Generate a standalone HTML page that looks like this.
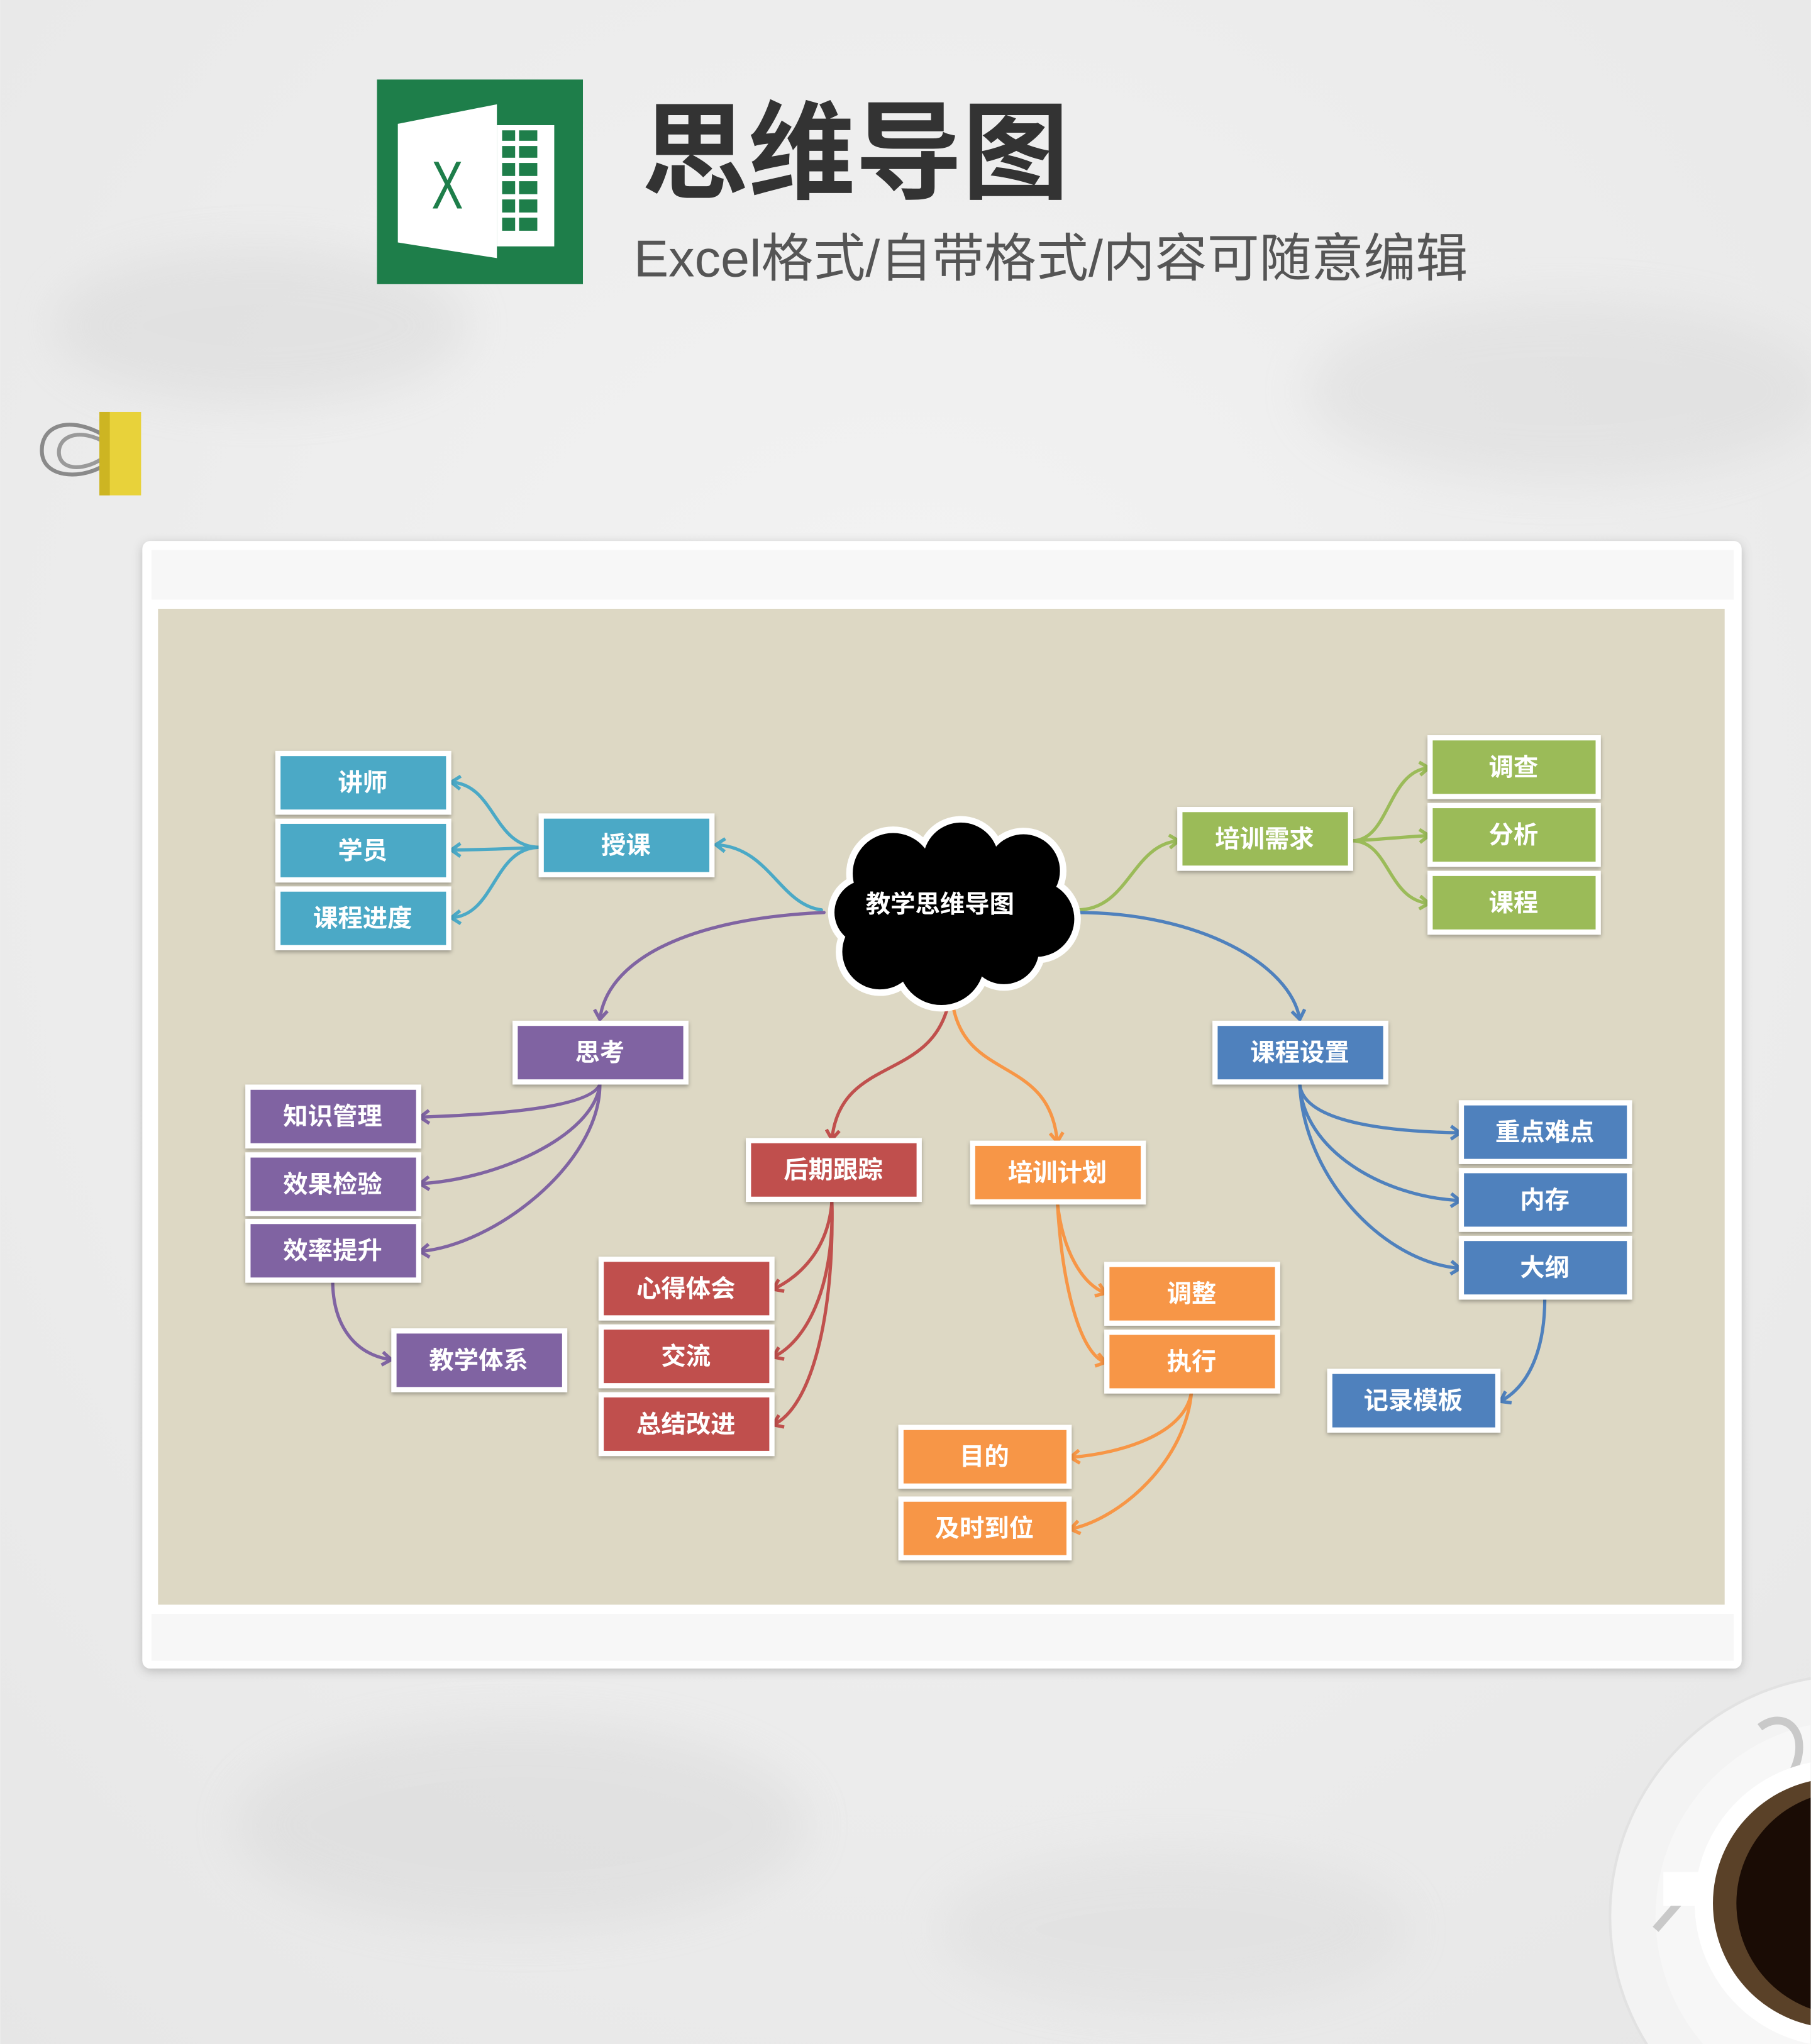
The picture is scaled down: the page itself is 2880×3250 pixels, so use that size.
<!DOCTYPE html>
<html><head><meta charset="utf-8">
<style>
html,body{margin:0;padding:0;background:#efefef;width:2880px;height:3250px;overflow:hidden;}
svg{display:block;overflow:hidden;}
text{font-family:"Liberation Sans","Noto Sans CJK SC",sans-serif;}
</style></head>
<body>
<svg width="2880" height="3250" viewBox="0 0 1389 1568" xmlns="http://www.w3.org/2000/svg">
<defs>
  <radialGradient id="bg" cx="50%" cy="40%" r="80%">
    <stop offset="0" stop-color="#f4f4f4"/><stop offset="1" stop-color="#e6e6e6"/>
  </radialGradient>
  <clipPath id="page"><rect x="0" y="0" width="1389" height="1568"/></clipPath>
  <filter id="sh" x="-10%" y="-10%" width="120%" height="130%">
    <feDropShadow dx="0" dy="1.5" stdDeviation="1.5" flood-color="#000" flood-opacity="0.3"/>
  </filter>
  <filter id="sh2" x="-5%" y="-5%" width="110%" height="110%">
    <feDropShadow dx="0" dy="2" stdDeviation="4" flood-color="#000" flood-opacity="0.2"/>
  </filter>
  <filter id="blur"><feGaussianBlur stdDeviation="18"/></filter>
  <marker id="mT" markerWidth="12" markerHeight="12" refX="8" refY="6" orient="auto" markerUnits="userSpaceOnUse"><path d="M1,1 L8,6 L1,11" fill="none" stroke="#4BA9C6" stroke-width="2.6"/></marker>
  <marker id="mP" markerWidth="12" markerHeight="12" refX="8" refY="6" orient="auto" markerUnits="userSpaceOnUse"><path d="M1,1 L8,6 L1,11" fill="none" stroke="#8064A2" stroke-width="2.6"/></marker>
  <marker id="mR" markerWidth="12" markerHeight="12" refX="8" refY="6" orient="auto" markerUnits="userSpaceOnUse"><path d="M1,1 L8,6 L1,11" fill="none" stroke="#C0504D" stroke-width="2.6"/></marker>
  <marker id="mO" markerWidth="12" markerHeight="12" refX="8" refY="6" orient="auto" markerUnits="userSpaceOnUse"><path d="M1,1 L8,6 L1,11" fill="none" stroke="#F79646" stroke-width="2.6"/></marker>
  <marker id="mG" markerWidth="12" markerHeight="12" refX="8" refY="6" orient="auto" markerUnits="userSpaceOnUse"><path d="M1,1 L8,6 L1,11" fill="none" stroke="#9BBB59" stroke-width="2.6"/></marker>
  <marker id="mB" markerWidth="12" markerHeight="12" refX="8" refY="6" orient="auto" markerUnits="userSpaceOnUse"><path d="M1,1 L8,6 L1,11" fill="none" stroke="#4F81BD" stroke-width="2.6"/></marker>
</defs>

<rect width="1389" height="1568" fill="url(#bg)"/>
<g filter="url(#blur)" opacity="0.35">
  <ellipse cx="200" cy="250" rx="160" ry="60" fill="#cfcfcf"/>
  <ellipse cx="1200" cy="300" rx="200" ry="70" fill="#d2d2d2"/>
  <ellipse cx="400" cy="1400" rx="220" ry="80" fill="#d0d0d0"/>
  <ellipse cx="900" cy="1480" rx="180" ry="60" fill="#d6d6d6"/>
</g>

<rect x="289" y="61" width="158" height="157" fill="#1E7E4A"/>
<polygon points="305,95 381,80 381,198 305,186" fill="#fff"/>
<rect x="381" y="96" width="44" height="93" fill="#fff"/>
<g fill="#1E7E4A">
  <rect x="385" y="100" width="10" height="8"/><rect x="398" y="100" width="14" height="8"/>
  <rect x="385" y="112" width="10" height="9"/><rect x="398" y="112" width="14" height="9"/>
  <rect x="385" y="125" width="10" height="10"/><rect x="398" y="125" width="14" height="10"/>
  <rect x="385" y="139" width="10" height="10"/><rect x="398" y="139" width="14" height="10"/>
  <rect x="385" y="153" width="10" height="10"/><rect x="398" y="153" width="14" height="10"/>
  <rect x="385" y="167" width="10" height="10"/><rect x="398" y="167" width="14" height="10"/>
</g>
<text x="343" y="160" font-size="52" fill="#1E7E4A" text-anchor="middle" font-family="Liberation Sans" transform="scale(0.7,1) translate(147,0)">X</text>

<text x="492" y="146" font-size="82" font-weight="bold" fill="#333">思维导图</text>
<text x="486" y="212" font-size="40" fill="#555">Excel格式/自带格式/内容可随意编辑</text>

<g>
  <path d="M78,333 C50,318 30,328 32,348 C34,366 60,368 78,358" fill="none" stroke="#8a8a8a" stroke-width="3"/>
  <path d="M78,338 C58,328 44,336 45,348 C46,360 62,362 78,352" fill="none" stroke="#9a9a9a" stroke-width="3"/>
  <rect x="76" y="316" width="32" height="64" fill="#E8D23A"/>
  <rect x="76" y="316" width="8" height="64" fill="#cdb522"/>
</g>

<g clip-path="url(#page)">
<circle cx="1420" cy="1470" r="185" fill="#f3f3f3" stroke="#e2e2e2" stroke-width="2"/>
<circle cx="1420" cy="1470" r="150" fill="#f7f7f7"/>
<path d="M1350,1325 C1370,1310 1390,1330 1375,1360 L1270,1480" fill="none" stroke="#c9c9c9" stroke-width="6"/>
<rect x="1276" y="1436" width="40" height="26" fill="#fff"/>
<circle cx="1410" cy="1460" r="110" fill="#fff"/>
<circle cx="1410" cy="1460" r="96" fill="#5a4128"/>
<circle cx="1418" cy="1460" r="86" fill="#1a0c05"/>
</g>

<rect x="109" y="415" width="1227" height="865" rx="6" fill="#fff" filter="url(#sh2)"/>
<rect x="116" y="422" width="1214" height="38" fill="#f7f7f7"/>
<rect x="121" y="467" width="1202" height="764" fill="#DDD8C4"/>
<rect x="116" y="1238" width="1214" height="36" fill="#f7f7f7"/>

<g fill="none" stroke-width="2.5" stroke-linecap="round">
  <g stroke="#4BA9C6" marker-end="url(#mT)">
    <path d="M630,698 C598,694 590,650 549,648"/>
    <path d="M414,650 C378,650 380,602 346,600"/>
    <path d="M414,650 C390,651 370,652 346,652"/>
    <path d="M414,650 C378,650 380,702 346,704"/>
  </g>
  <g stroke="#8064A2" marker-end="url(#mP)">
    <path d="M632,700 C520,705 465,740 460,782"/>
    <path d="M460,832 C452,850 380,855 322,857"/>
    <path d="M460,832 C455,872 380,905 322,908"/>
    <path d="M460,832 C460,892 380,955 322,960"/>
    <path d="M255,982 C255,1020 275,1040 300,1043"/>
  </g>
  <g stroke="#C0504D" marker-end="url(#mR)">
    <path d="M727,772 C712,830 645,810 638,874"/>
    <path d="M638,922 C635,960 612,980 593,989"/>
    <path d="M638,922 C640,990 617,1030 593,1041"/>
    <path d="M638,922 C640,1010 622,1080 593,1093"/>
  </g>
  <g stroke="#F79646" marker-end="url(#mO)">
    <path d="M731,772 C742,830 805,810 811,876"/>
    <path d="M811,922 C815,960 830,985 848,992"/>
    <path d="M811,922 C815,992 830,1040 848,1045"/>
    <path d="M914,1067 C910,1100 860,1115 821,1118"/>
    <path d="M914,1067 C910,1120 860,1165 821,1173"/>
  </g>
  <g stroke="#9BBB59" marker-end="url(#mG)">
    <path d="M826,698 C866,698 868,648 904,645"/>
    <path d="M1037,645 C1066,645 1064,592 1096,589"/>
    <path d="M1037,645 C1060,644 1075,642 1096,641"/>
    <path d="M1037,645 C1066,645 1064,690 1096,693"/>
  </g>
  <g stroke="#4F81BD" marker-end="url(#mB)">
    <path d="M826,700 C920,700 990,740 997,782"/>
    <path d="M997,832 C1000,860 1060,868 1120,869"/>
    <path d="M997,832 C1000,882 1060,918 1120,921"/>
    <path d="M997,832 C1000,902 1060,968 1120,973"/>
    <path d="M1185,996 C1185,1040 1170,1065 1151,1075"/>
  </g>
</g>

<g>
  <g fill="#fff">
    <circle cx="685" cy="670" r="36"/><circle cx="737" cy="660" r="34"/><circle cx="785" cy="668" r="33"/>
    <circle cx="795" cy="705" r="34"/><circle cx="665" cy="700" r="30"/><circle cx="675" cy="730" r="34"/>
    <circle cx="722" cy="738" r="38"/><circle cx="770" cy="728" r="32"/><circle cx="728" cy="700" r="50"/>
  </g>
  <g fill="#000">
    <circle cx="685" cy="670" r="31"/><circle cx="737" cy="660" r="29"/><circle cx="785" cy="668" r="28"/>
    <circle cx="795" cy="705" r="29"/><circle cx="665" cy="700" r="25"/><circle cx="675" cy="730" r="29"/>
    <circle cx="722" cy="738" r="33"/><circle cx="770" cy="728" r="27"/><circle cx="728" cy="700" r="46"/>
  </g>
  <text x="721" y="700" font-size="19" font-weight="bold" fill="#fff" text-anchor="middle">教学思维导图</text>
</g>

<g font-size="19" font-weight="bold" text-anchor="middle">
  <g fill="#4BA9C6">
    <rect x="213" y="578" width="131" height="45" stroke="#fff" stroke-width="4" filter="url(#sh)"/>
    <rect x="213" y="630" width="131" height="45" stroke="#fff" stroke-width="4" filter="url(#sh)"/>
    <rect x="213" y="682" width="131" height="45" stroke="#fff" stroke-width="4" filter="url(#sh)"/>
    <rect x="415" y="626" width="131" height="45" stroke="#fff" stroke-width="4" filter="url(#sh)"/>
  </g>
  <g fill="#8064A2">
    <rect x="395" y="785" width="131" height="45" stroke="#fff" stroke-width="4" filter="url(#sh)"/>
    <rect x="190" y="834" width="131" height="45" stroke="#fff" stroke-width="4" filter="url(#sh)"/>
    <rect x="190" y="886" width="131" height="45" stroke="#fff" stroke-width="4" filter="url(#sh)"/>
    <rect x="190" y="937" width="131" height="45" stroke="#fff" stroke-width="4" filter="url(#sh)"/>
    <rect x="302" y="1021" width="131" height="45" stroke="#fff" stroke-width="4" filter="url(#sh)"/>
  </g>
  <g fill="#C0504D">
    <rect x="574" y="875" width="131" height="45" stroke="#fff" stroke-width="4" filter="url(#sh)"/>
    <rect x="461" y="966" width="131" height="45" stroke="#fff" stroke-width="4" filter="url(#sh)"/>
    <rect x="461" y="1018" width="131" height="45" stroke="#fff" stroke-width="4" filter="url(#sh)"/>
    <rect x="461" y="1070" width="131" height="45" stroke="#fff" stroke-width="4" filter="url(#sh)"/>
  </g>
  <g fill="#F79646">
    <rect x="746" y="877" width="131" height="45" stroke="#fff" stroke-width="4" filter="url(#sh)"/>
    <rect x="849" y="970" width="131" height="45" stroke="#fff" stroke-width="4" filter="url(#sh)"/>
    <rect x="849" y="1022" width="131" height="45" stroke="#fff" stroke-width="4" filter="url(#sh)"/>
    <rect x="691" y="1095" width="129" height="45" stroke="#fff" stroke-width="4" filter="url(#sh)"/>
    <rect x="691" y="1150" width="129" height="45" stroke="#fff" stroke-width="4" filter="url(#sh)"/>
  </g>
  <g fill="#9BBB59">
    <rect x="905" y="621" width="131" height="45" stroke="#fff" stroke-width="4" filter="url(#sh)"/>
    <rect x="1097" y="566" width="129" height="45" stroke="#fff" stroke-width="4" filter="url(#sh)"/>
    <rect x="1097" y="618" width="129" height="45" stroke="#fff" stroke-width="4" filter="url(#sh)"/>
    <rect x="1097" y="670" width="129" height="45" stroke="#fff" stroke-width="4" filter="url(#sh)"/>
  </g>
  <g fill="#4F81BD">
    <rect x="932" y="785" width="131" height="45" stroke="#fff" stroke-width="4" filter="url(#sh)"/>
    <rect x="1121" y="846" width="129" height="45" stroke="#fff" stroke-width="4" filter="url(#sh)"/>
    <rect x="1121" y="898" width="129" height="45" stroke="#fff" stroke-width="4" filter="url(#sh)"/>
    <rect x="1121" y="950" width="129" height="45" stroke="#fff" stroke-width="4" filter="url(#sh)"/>
    <rect x="1020" y="1052" width="129" height="45" stroke="#fff" stroke-width="4" filter="url(#sh)"/>
  </g>
  <g fill="#fff">
    <text x="278" y="607">讲师</text>
    <text x="278" y="659">学员</text>
    <text x="278" y="711">课程进度</text>
    <text x="480" y="655">授课</text>
    <text x="460" y="814">思考</text>
    <text x="255" y="863">知识管理</text>
    <text x="255" y="915">效果检验</text>
    <text x="255" y="966">效率提升</text>
    <text x="367" y="1050">教学体系</text>
    <text x="639" y="904">后期跟踪</text>
    <text x="526" y="995">心得体会</text>
    <text x="526" y="1047">交流</text>
    <text x="526" y="1099">总结改进</text>
    <text x="811" y="906">培训计划</text>
    <text x="914" y="999">调整</text>
    <text x="914" y="1051">执行</text>
    <text x="755" y="1124">目的</text>
    <text x="755" y="1179">及时到位</text>
    <text x="970" y="650">培训需求</text>
    <text x="1161" y="595">调查</text>
    <text x="1161" y="647">分析</text>
    <text x="1161" y="699">课程</text>
    <text x="997" y="814">课程设置</text>
    <text x="1185" y="875">重点难点</text>
    <text x="1185" y="927">内存</text>
    <text x="1185" y="979">大纲</text>
    <text x="1084" y="1081">记录模板</text>
  </g>
</g>
</svg>
</body></html>
